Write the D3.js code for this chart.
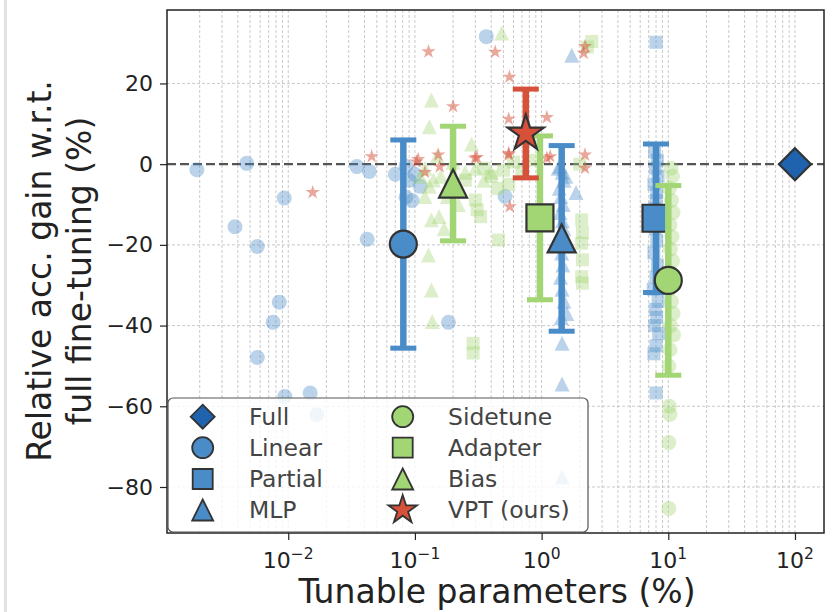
<!DOCTYPE html>
<html>
<head>
<meta charset="utf-8">
<script src="https://cdn.jsdelivr.net/npm/d3@7"></script>
<style>
  body { margin: 0; background: #fff; }
  svg { display: block; font-family: "DejaVu Sans", sans-serif; }
</style>
</head>
<body>
<svg id="chart" width="833" height="612"></svg>
<script>
// summary per method (mean over tasks, std as error bar)
const methods = ['Full', 'Linear', 'Partial', 'MLP', 'Sidetune', 'Adapter', 'Bias', 'VPT (ours)'];
const meanParams = [100, 0.081, 8.0, 1.44, 10.0, 0.97, 0.2, 0.75];
const meanGain = [0, -19.8, -13.4, -18.4, -28.8, -13.3, -4.8, 7.6];
const stdGain = [0, 25.8, 18.4, 23, 23.5, 20.3, 14.2, 11];

// per-task points
const linearParams = [0.0019, 0.0047, 0.0348, 0.0437, 0.0093, 0.0038, 0.0057, 0.042, 0.0085, 0.0076, 0.184, 0.0057, 0.0094, 0.0149, 0.0168, 0.366, 0.515, 0.085, 0.09, 0.085, 0.1, 0.11, 0.07, 0.095];
const linearGain = [-1.4, 0.2, -0.6, -1.8, -8.4, -15.5, -20.4, -18.6, -34.2, -39.2, -39.2, -47.9, -57.6, -56.7, -62.1, 31.6, -8, -0.5, -4, -8.2, -2.5, -5.5, -2.5, -9];
const partialParams = [8.0, 7.8, 8.2, 7.9, 8.3, 7.7, 8.1, 8.0, 7.8, 8.4, 7.9, 8.1, 7.7, 8.2, 8.0, 7.6, 8.3, 7.9, 8.1, 7.8, 8.4, 8.0, 7.7, 8.0];
const partialGain = [30.2, 3, 1, -1, -3, -5, -7, -9, -11, -13, -16, -19, -22, -25, -28, -31, -34, -36, -38, -40, -42, -45, -47, -56.7];
const mlpParams = [1.73, 1.87, 1.58, 1.45, 1.45, 1.45, 1.4, 1.45, 1.5, 1.38, 1.42, 1.48, 1.4, 1.46, 1.5, 1.42, 1.44, 1.47, 1.41, 1.45, 1.5, 1.43, 1.55, 1.35];
const mlpGain = [27, -7, -37, -44.4, -54.5, -77.5, -0.5, -2, -4, -6, -8, -10, -12, -14, -16, -20, -22, -25, -28, -31, -34, -38, -3, -1];
const sidetuneParams = [10.5, 10.8, 10.2, 10.6, 10.9, 10.3, 10.7, 10.4, 10.8, 10.5, 10.2, 10.6, 10.9, 11.0, 10.4, 10.3, 10.1, 10.2, 10.3, 10.1, 10.1];
const sidetuneGain = [-1, -3, -6, -9, -12, -15, -18, -21, -24, -27, -31, -34, -37, -42.3, -40, -46, -50, -60, -62, -69, -85.3];
const adapterParams = [2.49, 2.3, 2.07, 2.1, 2.07, 2.1, 2.07, 2.1, 0.457, 0.31, 0.3, 0.288, 0.288, 0.35, 0.4, 0.5, 0.6, 0.25, 0.7, 0.55, 0.45, 0.33, 2.0, 0.8];
const adapterGain = [30.4, 29, -13.8, -17, -19.6, -23.7, -27.9, -29.5, -18.8, -11.3, -8.9, -44.4, -46.8, -1, -3, -1.5, 0.5, -4, -2, -5, -6, -13, 0, 1];
const biasParams = [0.135, 0.13, 0.484, 0.13, 0.135, 0.155, 0.128, 0.135, 0.137, 0.14, 0.16, 0.12, 0.2, 0.25, 0.3, 0.18, 0.22, 0.15, 0.28, 0.35, 0.12, 0.17, 0.4, 0.11];
const biasGain = [15.9, 9.3, 32.5, -5.5, -13.8, -13, -22.5, -31.2, -39, -3.9, -3, -1, 0.5, -2, -1, -8, -10, 2, 5, -4, -8, -16, -2, -3];
const vptParams = [0.128, 0.2, 0.0456, 0.0156, 0.153, 0.103, 0.298, 0.43, 0.557, 0.55, 1.1, 0.106, 0.157, 0.308, 0.55, 1.1, 0.55, 1.17, 2.2, 2.2, 2.15, 2.2, 0.56, 0.12];
const vptGain = [27.9, 14.3, 1.9, -7.0, 2.3, 0.6, 1.5, 27.8, 21.6, 11.2, 11.6, 1.2, -0.6, 1.7, 2.3, 1.5, 2.7, 1.9, 2.3, 29.2, 27.5, -1.0, -10.5, -2];

const yTicks = [-80, -60, -40, -20, 0, 20];
const xTicks = [1e-2, 1e-1, 1, 1e1, 1e2];
const xTickExp = ['\u22122', '\u22121', '0', '1', '2'];

const taskPoints = {
  Linear: [linearParams, linearGain],
  Partial: [partialParams, partialGain],
  MLP: [mlpParams, mlpGain],
  Sidetune: [sidetuneParams, sidetuneGain],
  Adapter: [adapterParams, adapterGain],
  Bias: [biasParams, biasGain],
  'VPT (ours)': [vptParams, vptGain],
};

const blue = '#4a8cc8';
const green = '#a2d574';
const red = '#d6503a';
const style = {
  Full: { color: '#1f62ad', shape: 'diamond', big: 32, leg: 24 },
  Linear: { color: blue, shape: 'circle', big: 27, leg: 21, small: 15 },
  Partial: { color: blue, shape: 'square', big: 27, leg: 20, small: 13 },
  MLP: { color: blue, shape: 'triangle', big: 28, leg: 21, small: 15 },
  Sidetune: { color: green, shape: 'circle', big: 27, leg: 21, small: 15 },
  Adapter: { color: green, shape: 'square', big: 27, leg: 20, small: 13 },
  Bias: { color: green, shape: 'triangle', big: 28, leg: 21, small: 15 },
  'VPT (ours)': { color: red, shape: 'star', big: 38, leg: 30, small: 15 },
};

const shapes = {
  circle: (s) => {
    const r = s / 2;
    return `M${r},0A${r},${r} 0 1,1 ${-r},0A${r},${r} 0 1,1 ${r},0Z`;
  },
  square: (s) => {
    const h = s / 2;
    return `M${-h},${-h}H${h}V${h}H${-h}Z`;
  },
  triangle: (s) => {
    const h = s / 2;
    return `M0,${-h}L${h},${h}L${-h},${h}Z`;
  },
  diamond: (s) => {
    const h = s / 2;
    return `M0,${-h}L${h},0L0,${h}L${-h},0Z`;
  },
  star: (s) => {
    const R = s / 2;
    const r = R * 0.382;
    const pts = d3.range(10).map((i) => {
      const a = (i * Math.PI) / 5 - Math.PI / 2;
      const rad = i % 2 ? r : R;
      return [rad * Math.cos(a), rad * Math.sin(a)];
    });
    return `M${pts.map((p) => p.join(',')).join('L')}Z`;
  },
};

const svg = d3.select('#chart');
const x = d3.scaleLog().domain([10 ** -2.957, 10 ** 2.229]).range([167, 824]);
const y = d3.scaleLinear().domain([-91.4, 38.2]).range([533, 10]);
const [x0, x1] = x.range();
const [y0, y1] = y.range();

// left edge strip of the screenshot
svg.append('rect').attr('x', 4).attr('y', 0).attr('width', 3).attr('height', 612).attr('fill', '#e2e2e2');

svg.append('clipPath').attr('id', 'plot').append('rect')
  .attr('x', x0).attr('y', y1).attr('width', x1 - x0).attr('height', y0 - y1);

// grid
const minorTicks = [];
for (let e = -3; e <= 2; e += 1) {
  for (let m = 1; m <= 9; m += 1) {
    const v = m * 10 ** e;
    if (v >= x.domain()[0] && v <= x.domain()[1]) minorTicks.push(v);
  }
}
const grid = svg.append('g');
grid.selectAll('line.vx').data(minorTicks).join('line')
  .attr('x1', (d) => x(d)).attr('x2', (d) => x(d))
  .attr('y1', y1).attr('y2', y0)
  .attr('stroke', '#c4c4c4').attr('stroke-width', 0.9).attr('stroke-dasharray', '3,2');
grid.selectAll('line.hy').data(yTicks.filter((d) => d !== 0)).join('line')
  .attr('x1', x0).attr('x2', x1)
  .attr('y1', (d) => y(d)).attr('y2', (d) => y(d))
  .attr('stroke', '#c4c4c4').attr('stroke-width', 0.9).attr('stroke-dasharray', '3,2');
svg.append('line')
  .attr('x1', x0).attr('x2', x1).attr('y1', y(0)).attr('y2', y(0))
  .attr('stroke', '#555').attr('stroke-width', 2.2).attr('stroke-dasharray', '9,4');

const plot = svg.append('g').attr('clip-path', 'url(#plot)');

// per-task points
Object.entries(taskPoints).forEach(([name, [px, py]]) => {
  const st = style[name];
  plot.append('g').selectAll('path').data(px.map((v, i) => [v, py[i]])).join('path')
    .attr('d', shapes[st.shape](st.small))
    .attr('transform', (d) => `translate(${x(d[0])},${y(d[1])})`)
    .attr('fill', st.color)
    .attr('fill-opacity', name === 'VPT (ours)' ? 0.5 : 0.38);
});

// error bars + mean markers
const order = [1, 2, 4, 5, 6, 3, 0, 7];
const summary = order.map((i) => ({
  name: methods[i], px: meanParams[i], gy: meanGain[i], sd: stdGain[i],
}));
summary.forEach((d) => {
  const st = style[d.name];
  const g = plot.append('g');
  if (d.sd > 0) {
    const cx = x(d.px);
    g.append('line').attr('x1', cx).attr('x2', cx)
      .attr('y1', y(d.gy + d.sd)).attr('y2', y(d.gy - d.sd))
      .attr('stroke', st.color).attr('stroke-width', 6.5);
    [d.gy + d.sd, d.gy - d.sd].forEach((v) => {
      g.append('line').attr('x1', cx - 13).attr('x2', cx + 13)
        .attr('y1', y(v)).attr('y2', y(v))
        .attr('stroke', st.color).attr('stroke-width', 5);
    });
  }
  g.append('path')
    .attr('d', shapes[st.shape](st.big))
    .attr('transform', `translate(${x(d.px)},${y(d.gy)})`)
    .attr('fill', st.color)
    .attr('stroke', '#333').attr('stroke-width', 2.2).attr('stroke-linejoin', 'miter');
});

// frame
svg.append('rect').attr('x', x0).attr('y', y1).attr('width', x1 - x0).attr('height', y0 - y1)
  .attr('fill', 'none').attr('stroke', '#222').attr('stroke-width', 1.5);

// x axis
const xAxis = svg.append('g').attr('transform', `translate(0,${y0})`);
xAxis.call(d3.axisBottom(x).tickValues(minorTicks.filter((v) => !xTicks.includes(v)))
  .tickSize(4).tickFormat(''));
xAxis.call(d3.axisBottom(x).tickValues(xTicks).tickSize(7).tickFormat(''));
xAxis.selectAll('.domain').remove();
xAxis.selectAll('line').attr('stroke', '#222').attr('stroke-width', 1.2);
const xLab = svg.append('g').selectAll('text').data(xTicks).join('text')
  .attr('x', (d) => x(d)).attr('y', 568)
  .attr('text-anchor', 'middle').attr('fill', '#222').attr('font-size', 22);
xLab.append('tspan').text('10');
xLab.append('tspan').attr('dy', -9).attr('font-size', 15.5).text((d, i) => xTickExp[i]);

// y axis
const yAxis = svg.append('g').attr('transform', `translate(${x0},0)`);
yAxis.call(d3.axisLeft(y).tickValues(yTicks).tickSize(7)
  .tickFormat((d) => (d < 0 ? `\u2212${-d}` : `${d}`)));
yAxis.selectAll('.domain').remove();
yAxis.selectAll('line').attr('stroke', '#222').attr('stroke-width', 1.2);
yAxis.selectAll('text').attr('font-size', 22).attr('fill', '#222').attr('x', -14)
  .attr('font-family', '"DejaVu Sans", sans-serif');

// titles
svg.append('text').attr('x', 497).attr('y', 603).attr('text-anchor', 'middle')
  .attr('font-size', 33).attr('fill', '#222').text('Tunable parameters (%)');
const yTitle = svg.append('text').attr('transform', 'translate(0,271) rotate(-90)')
  .attr('text-anchor', 'middle').attr('font-size', 33).attr('fill', '#222');
yTitle.append('tspan').attr('x', 0).attr('y', 51).text('Relative acc. gain w.r.t.');
yTitle.append('tspan').attr('x', 0).attr('y', 91).text('full fine-tuning (%)');

// legend
const legend = svg.append('g');
legend.append('rect').attr('x', 168).attr('y', 398).attr('width', 420).attr('height', 134)
  .attr('rx', 5).attr('fill', '#fff').attr('fill-opacity', 0.8)
  .attr('stroke', '#555').attr('stroke-width', 1.2);
const rowY = [416.7, 447.7, 479, 510];
methods.forEach((name, i) => {
  const st = style[name];
  const col = Math.floor(i / 4);
  const mx = col ? 402.7 : 202.7;
  const tx = col ? 448 : 249;
  const ry = rowY[i % 4];
  legend.append('path').attr('d', shapes[st.shape](st.leg))
    .attr('transform', `translate(${mx},${ry})`)
    .attr('fill', st.color).attr('stroke', '#333').attr('stroke-width', 1.8);
  legend.append('text').attr('x', tx).attr('y', ry).attr('dy', '0.36em')
    .attr('font-size', 23.5).attr('fill', '#444').text(name);
});
</script>
</body>
</html>
